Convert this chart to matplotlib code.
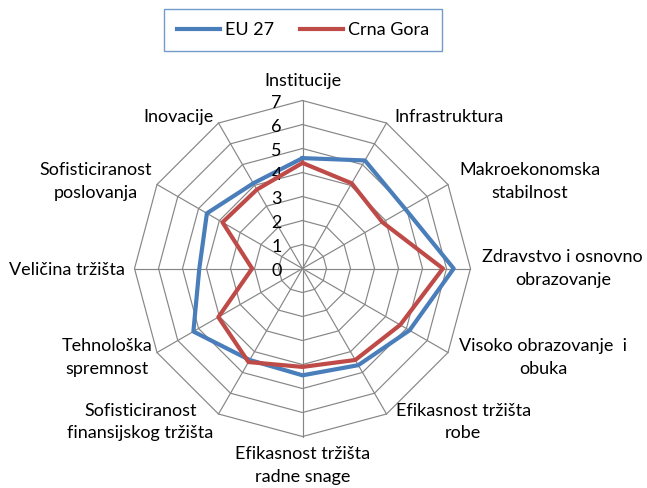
import numpy as np
import matplotlib
matplotlib.use("Agg")
import matplotlib.pyplot as plt
from matplotlib.lines import Line2D

plt.rcParams['font.family'] = ['Lato', 'DejaVu Sans']

categories = ["Institucije", "Infrastruktura", "Makroekonomska\nstabilnost",
              "Zdravstvo i osnovno\nobrazovanje", "Visoko obrazovanje  i\nobuka",
              "Efikasnost tržišta\nrobe", "Efikasnost tržišta\nradne snage",
              "Sofisticiranost\nfinansijskog tržišta", "Tehnološka\nspremnost",
              "Veličina tržišta", "Sofisticiranost\nposlovanja", "Inovacije"]
eu27 = [4.6, 5.2, 4.95, 6.3, 5.15, 4.65, 4.45, 4.4, 5.25, 4.3, 4.6, 4.1]
crna_gora = [4.4, 4.1, 3.85, 5.85, 4.7, 4.4, 4.1, 4.5, 4.05, 2.1, 3.85, 3.8]
rticks = [0, 1, 2, 3, 4, 5, 6, 7]

blue = '#4A7EBB'
red = '#BE4B48'
grid_col = '#868686'

# label offsets in px from the outer vertex: (dx, dy, ha)
label_pos = [(0, 20, 'center'), (8, 6, 'left'), (11, 3, 'left'), (12, 0, 'left'),
             (11, -5, 'left'), (9, -8, 'left'), (0, -29, 'center'), (-5, -8, 'right'),
             (-5, -5, 'right'), (-10, -1, 'right'), (-5, 3, 'right'), (-5, 6, 'right')]

fig = plt.figure(figsize=(6.47, 4.88), dpi=100)
ax = fig.add_axes([0.2079, 0.1055, 0.5193, 0.6885], projection='polar')
ax.set_theta_zero_location('N')
ax.set_theta_direction(-1)
ax.set_ylim(0, 7)
ax.grid(False)
ax.spines['polar'].set_visible(False)
ax.patch.set_visible(False)
ax.set_xticks([])
ax.set_yticks([])

n = len(categories)
theta = np.linspace(0, 2 * np.pi, n, endpoint=False)
theta_c = np.append(theta, theta[0])

# polygon grid
for r in rticks[1:]:
    ax.plot(theta_c, [r] * (n + 1), color=grid_col, lw=0.85, clip_on=False)
for t in theta:
    ax.plot([t, t], [0, 7], color=grid_col, lw=0.85, clip_on=False)

ax.plot(theta_c, eu27 + eu27[:1], color=blue, lw=3, clip_on=False, zorder=3)
ax.plot(theta_c, crna_gora + crna_gora[:1], color=red, lw=3, clip_on=False, zorder=4)

for r in rticks:
    ax.annotate(str(r), xy=(0, r), xytext=(-26 * 0.72, -2 * 0.72),
                textcoords='offset points', ha='center', va='center', fontsize=13)

for t, lab, (dx, dy, ha) in zip(theta, categories, label_pos):
    ax.annotate(lab, xy=(t, 7), xytext=(dx * 0.72, dy * 0.72), textcoords='offset points',
                ha=ha, va='center', multialignment='center', fontsize=13,
                linespacing=1.5, annotation_clip=False)

handles = [Line2D([], [], color=blue, lw=3), Line2D([], [], color=red, lw=3)]
leg = fig.legend(handles, ["EU 27", "Crna Gora"], loc='center', ncol=2,
                 bbox_to_anchor=(303 / 647, 1 - 30 / 488), fontsize=13,
                 frameon=True, fancybox=False, edgecolor='#4F81BD',
                 handlelength=2.4, handletextpad=0.25, columnspacing=1.45,
                 borderpad=0.7, borderaxespad=0)
leg.get_frame().set_linewidth(1)

fig.savefig("out.png", dpi=100)
